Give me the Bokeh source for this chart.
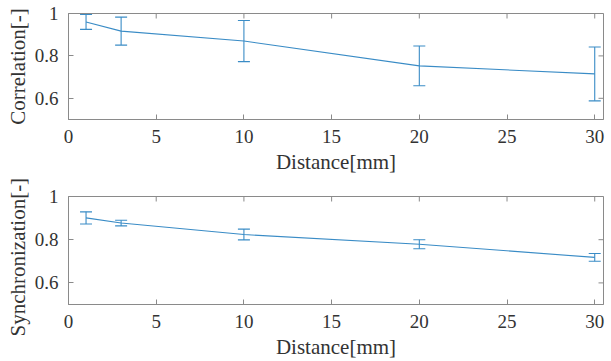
import math
from bokeh.plotting import figure
from bokeh.layouts import column
from bokeh.models import ColumnDataSource, Whisker, TeeHead, FixedTicker, Range1d, Title
from bokeh.embed import file_html
from bokeh.resources import INLINE

# ---- data ----
distance = [1, 3, 10, 20, 30]
correlation = [0.960, 0.917, 0.870, 0.753, 0.715]
correlation_err = [0.035, 0.066, 0.097, 0.094, 0.127]
synchronization = [0.901, 0.877, 0.824, 0.779, 0.718]
synchronization_err = [0.028, 0.013, 0.025, 0.021, 0.018]

x_ticks = [0, 5, 10, 15, 20, 25, 30]
y_ticks = [0.6, 0.8, 1.0]
y_tick_labels = ["0.6", "0.8", "1"]
x_limits = (0, 30.5)
y_limits = (0.5, 1.0)

LINE = "#3a8cc6"
AX = "#8a8a8a"
TXT = "#333333"
FONT = "Liberation Serif"


def make(values, errs, ylabel, height, top, bottom, label_align, label_offset):
    p = figure(width=611, height=height, output_backend="svg", toolbar_location=None,
               x_range=Range1d(*x_limits), y_range=Range1d(*y_limits),
               min_border_left=68, min_border_right=8,
               min_border_top=top, min_border_bottom=bottom)
    p.xgrid.visible = False
    p.ygrid.visible = False
    p.outline_line_color = AX
    p.outline_line_width = 1
    p.outline_line_alpha = 1
    p.background_fill_color = "white"
    p.border_fill_color = "white"

    src = ColumnDataSource(dict(
        x=distance, y=values,
        upper=[v + e for v, e in zip(values, errs)],
        lower=[v - e for v, e in zip(values, errs)]))
    p.line("x", "y", source=src, line_color=LINE, line_width=1.1)
    w = Whisker(source=src, base="x", upper="upper", lower="lower", dimension="height",
                line_color=LINE, line_width=1.1,
                upper_head=TeeHead(size=12, line_color=LINE, line_width=1.1),
                lower_head=TeeHead(size=12, line_color=LINE, line_width=1.1))
    p.add_layout(w)

    for ax in (p.xaxis[0], p.yaxis[0]):
        ax.axis_line_color = AX
        ax.major_tick_line_color = AX
        ax.major_tick_in = 5
        ax.major_tick_out = 0
        ax.minor_tick_line_color = None
        ax.major_label_text_font = FONT
        ax.major_label_text_font_size = "19px"
        ax.major_label_text_color = TXT
        ax.axis_label_text_font = FONT
        ax.axis_label_text_font_size = "21px"
        ax.axis_label_text_font_style = "normal"
        ax.axis_label_text_color = TXT
    p.xaxis[0].ticker = FixedTicker(ticks=x_ticks)
    p.yaxis[0].ticker = FixedTicker(ticks=y_ticks)
    p.yaxis[0].major_label_overrides = {t: l for t, l in zip(y_ticks, y_tick_labels)}
    p.xaxis[0].axis_label = "Distance[mm]"
    p.xaxis[0].major_label_standoff = 10
    p.yaxis[0].major_label_standoff = 10
    p.xaxis[0].axis_label_standoff = 4

    # y label as a left-side title so it can be shifted along the axis
    t = Title(text=ylabel, align=label_align, offset=label_offset, standoff=3,
              text_font=FONT, text_font_size="21px", text_font_style="normal",
              text_color=TXT)
    p.add_layout(t, "left")

    # mirrored inward ticks on top and right edges (half of each dash is clipped by the frame)
    p.scatter(x=x_ticks, y=[y_limits[1]] * len(x_ticks), marker="dash", angle=math.pi / 2,
              size=10, line_color=AX, line_width=1)
    p.scatter(x=[x_limits[1]] * len(y_ticks), y=y_ticks, marker="dash",
              size=10, line_color=AX, line_width=1)
    return p


p1 = make(correlation, correlation_err, "Correlation[-]", 176, 13, 54, "center", 0)
p2 = make(synchronization, synchronization_err, "Synchronization[-]", 185, 20, 55, "left", -32)

layout = column(p1, p2, spacing=0)
open("out.html", "w").write(file_html(layout, INLINE))
